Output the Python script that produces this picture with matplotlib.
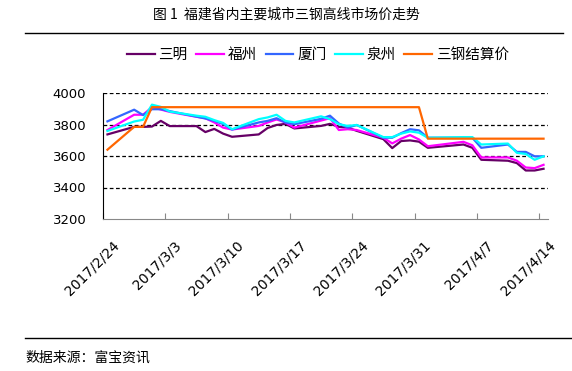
#!/usr/bin/env python3
"""
Fujian wire rod market prices, Sanming / Fuzhou / Xiamen / Quanzhou vs Sansteel settlement price.
"""

import pandas as pd
import matplotlib
matplotlib.use("Agg")
import matplotlib.pyplot as plt
import matplotlib.dates as mdates
import matplotlib.transforms as mtransforms

plt.rcParams["font.family"] = ["Noto Sans CJK SC", "DejaVu Sans"]

# ============================================================================
# DATA (trading days, 2017; 4/1 was a working Saturday, 4/3-4/4 holiday)
# ============================================================================
dates = pd.to_datetime([
    "2017-02-24", "2017-02-27", "2017-02-28", "2017-03-01", "2017-03-02", "2017-03-03",
    "2017-03-06", "2017-03-07", "2017-03-08", "2017-03-09", "2017-03-10",
    "2017-03-13", "2017-03-14", "2017-03-15", "2017-03-16", "2017-03-17",
    "2017-03-20", "2017-03-21", "2017-03-22", "2017-03-23", "2017-03-24",
    "2017-03-27", "2017-03-28", "2017-03-29", "2017-03-30", "2017-03-31", "2017-04-01",
    "2017-04-05", "2017-04-06", "2017-04-07",
    "2017-04-10", "2017-04-11", "2017-04-12", "2017-04-13", "2017-04-14",
])

sanming = [3737, 3785, 3785, 3787, 3823, 3790, 3790, 3752, 3772, 3742, 3722,
           3737, 3778, 3797, 3804, 3775, 3791, 3804, 3785, 3780, 3760,
           3707, 3650, 3695, 3699, 3691, 3652, 3673, 3652, 3576,
           3570, 3555, 3508, 3508, 3519]
fuzhou = [3765, 3862, 3862, 3910, 3895, 3880, 3849, 3840, 3813, 3780, 3768,
          3791, 3813, 3832, 3813, 3780, 3825, 3840, 3765, 3770, 3765,
          3716, 3680, 3710, 3733, 3705, 3662, 3690, 3668, 3591,
          3591, 3570, 3527, 3523, 3544]
xiamen = [3820, 3894, 3860, 3897, 3897, 3885, 3850, 3838, 3823, 3803, 3768,
          3813, 3823, 3840, 3813, 3802, 3836, 3856, 3806, 3780, 3797,
          3716, 3716, 3745, 3770, 3763, 3716, 3716, 3716, 3652,
          3673, 3626, 3626, 3598, 3598]
quanzhou = [3759, 3819, 3830, 3926, 3912, 3882, 3856, 3849, 3828, 3810, 3770,
            3834, 3845, 3862, 3823, 3813, 3852, 3834, 3802, 3791, 3797,
            3720, 3720, 3742, 3756, 3748, 3716, 3720, 3720, 3673,
            3679, 3620, 3613, 3576, 3598]
settle = [3640, 3785, 3785, 3910, 3910, 3910, 3910, 3910, 3910, 3910, 3910,
          3910, 3910, 3910, 3910, 3910, 3910, 3910, 3910, 3910, 3910,
          3910, 3910, 3910, 3910, 3910, 3710, 3710, 3710, 3710,
          3710, 3710, 3710, 3710, 3710]

series_names = ["三明", "福州", "厦门", "泉州", "三钢结算价"]
series_colors = ["#660066", "#FF00FF", "#3366FF", "#00FFFF", "#FF6600"]
tick_labels = ["2017/2/24", "2017/3/3", "2017/3/10", "2017/3/17",
               "2017/3/24", "2017/3/31", "2017/4/7", "2017/4/14"]

# ============================================================================
# FIGURE
# ============================================================================
W, H = 572, 371
fig = plt.figure(figsize=(W / 100, H / 100), dpi=100)
ax = fig.add_axes([103 / W, 1 - 219 / H, (548 - 103) / W, (219 - 93) / H])

for vals, name, color in zip([sanming, fuzhou, xiamen, quanzhou, settle],
                             series_names, series_colors):
    ax.plot(dates, vals, color=color, lw=1.6, label=name)

# category-style date axis: points sit mid-day, ticks on day boundaries
half_day = pd.Timedelta(hours=12)
ax.set_xlim(dates[0] - half_day, dates[-1] + half_day)
ticks = pd.date_range(dates[0], dates[-1], freq="7D") - half_day
ax.set_xticks(ticks)
ax.set_xticklabels([])

trans = mtransforms.blended_transform_factory(ax.transData, ax.transAxes)
offset = mtransforms.ScaledTranslation(9 / 100, -19 / 100, fig.dpi_scale_trans)
for t, lab in zip(ticks, tick_labels):
    ax.text(mdates.date2num(t), 0, lab, transform=trans + offset,
            rotation=45, ha="right", va="top", rotation_mode="anchor",
            fontsize=10, family="DejaVu Sans")

ax.set_ylim(3200, 4000)
ax.set_yticks(range(3200, 4001, 200))
ax.set_yticklabels([str(v) for v in range(3200, 4001, 200)], family="DejaVu Sans", fontsize=9.5)
for v in range(3400, 4001, 200):
    ax.axhline(v, color="black", lw=0.9, ls=(0, (3, 2)), zorder=0)

ax.tick_params(axis="x", direction="in", length=4, color="#888888", pad=0)
ax.tick_params(axis="y", length=0, pad=12)
ax.spines["top"].set_visible(False)
ax.spines["right"].set_visible(False)
ax.spines["bottom"].set_color("#888888")
ax.spines["left"].set_color("black")

fig.legend(loc="center", bbox_to_anchor=(318 / W, 1 - 55 / H), ncol=5, frameon=False,
           fontsize=10.5, handlelength=1.9, handletextpad=0.25, columnspacing=0.6)

fig.text(153 / W, 1 - 15 / H, "图 1  福建省内主要城市三钢高线市场价走势",
         fontsize=10, ha="left", va="center")
fig.add_artist(plt.Line2D([25 / W, 563 / W], [1 - 33 / H] * 2, color="black", lw=1))
fig.add_artist(plt.Line2D([25 / W, 1.0], [1 - 338 / H] * 2, color="black", lw=1))
fig.text(25 / W, 1 - 358 / H, "数据来源：富宝资讯", fontsize=10, ha="left", va="center")

fig.savefig("out.png", dpi=100)
